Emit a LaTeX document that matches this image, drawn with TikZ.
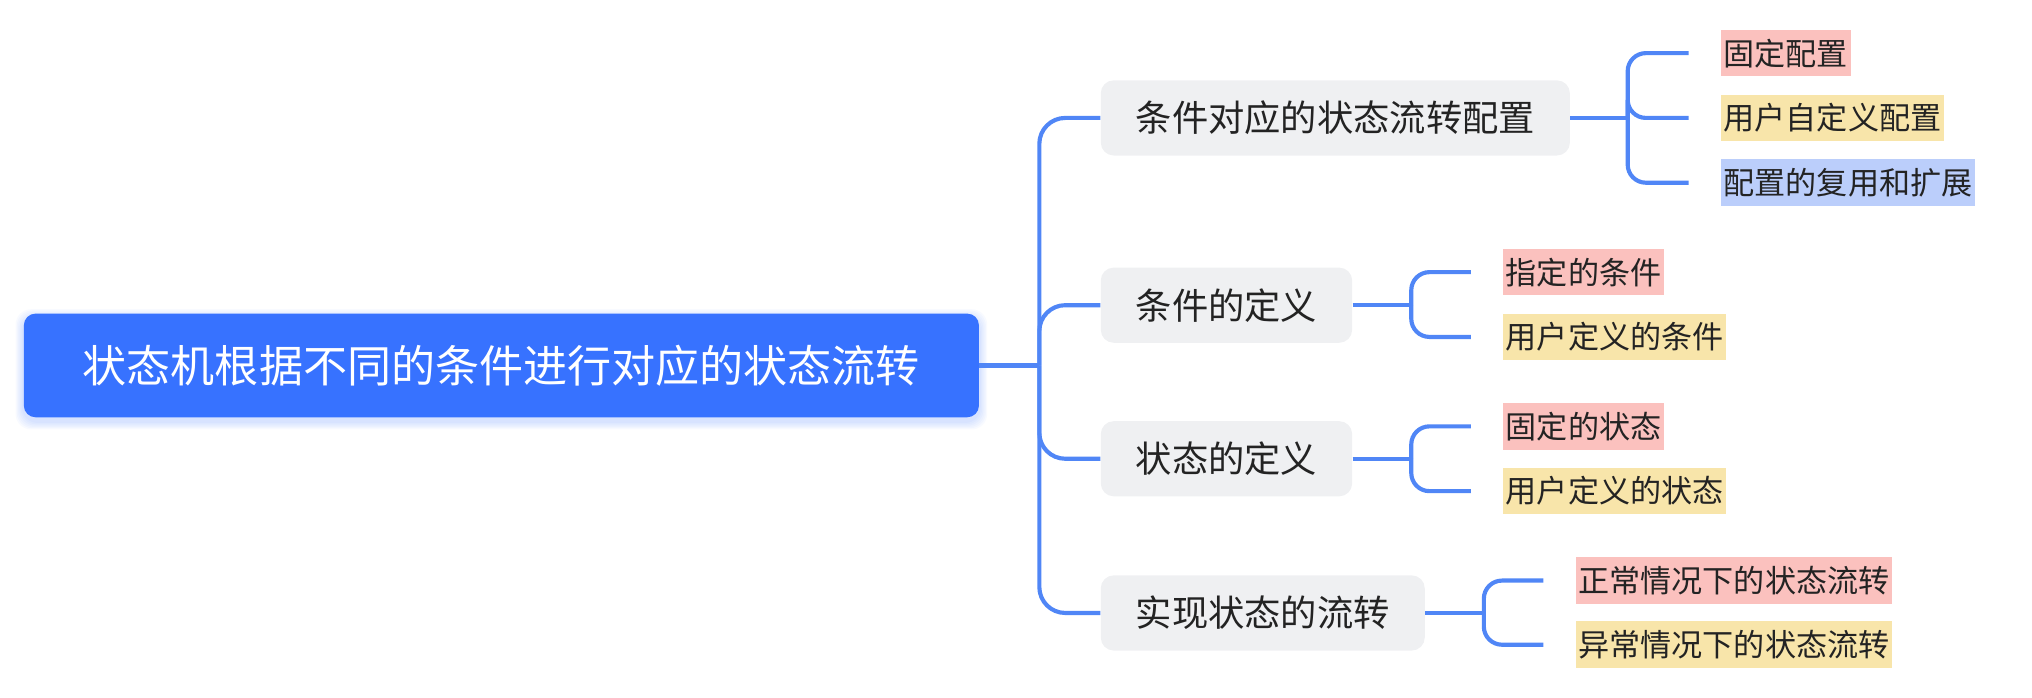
\documentclass[tikz,border=0pt]{standalone}
\usepackage{fontspec}
\newfontfamily\cjk{Noto Sans CJK SC}
\usetikzlibrary{backgrounds}
\definecolor{connblue}{HTML}{5086F6}
\definecolor{rootblue}{HTML}{3772FF}
\definecolor{topicgray}{HTML}{EFF0F2}
\definecolor{textdark}{HTML}{232323}
\definecolor{fillred}{HTML}{FBC1BE}
\definecolor{fillyellow}{HTML}{F8E5AA}
\definecolor{fillblue}{HTML}{BBCEFB}
\begin{document}
\begin{tikzpicture}[x=0.5pt,y=-0.5pt,
  link/.style={draw=connblue,line width=1.6pt},
  rootbox/.style={fill=rootblue,rounded corners=4.5pt,minimum width=368.5pt,minimum height=40pt,inner sep=0pt,text=white,font=\cjk\fontsize{17pt}{20pt}\selectfont},
  topicbox/.style={fill=topicgray,rounded corners=5pt,minimum height=29pt,inner xsep=13.5pt,inner ysep=0pt,text=textdark,font=\cjk\fontsize{14pt}{17pt}\selectfont},
  leafbox/.style={minimum height=18pt,inner xsep=1pt,inner ysep=0pt,outer xsep=12.5pt,outer ysep=0pt,text=textdark,font=\cjk\fontsize{12pt}{14pt}\selectfont},
  leafred/.style={leafbox,fill=fillred},
  leafyellow/.style={leafbox,fill=fillyellow},
  leafblue/.style={leafbox,fill=fillblue}]
\useasboundingbox (0,0) rectangle (1568,538.6);

\node[rootbox,anchor=west] (root) at (18,282) {状态机根据不同的条件进行对应的状态流转};
\begin{scope}[on background layer]
\foreach \i in {0.5,1,...,3}{
  \fill[rootblue,opacity=0.035,rounded corners=6pt] ([xshift=-\i pt,yshift=-\i pt-1.5pt]root.south west) rectangle ([xshift=\i pt,yshift=\i pt-1.5pt]root.north east);
}
\end{scope}

\node[topicbox,anchor=west] (t1) at (849,91) {条件对应的状态流转配置};
\node[topicbox,anchor=west] (t2) at (849,235.5) {条件的定义};
\node[topicbox,anchor=west] (t3) at (849,354) {状态的定义};
\node[topicbox,anchor=west] (t4) at (849,473) {实现状态的流转};

\coordinate (h0) at (802,282);
\coordinate (h1) at (1256,91);
\coordinate (h2) at (1089,235.5);
\coordinate (h3) at (1089,354);
\coordinate (h4) at (1145,473);

\node[leafred,anchor=west] (l11) at (1303,41) {固定配置};
\node[leafyellow,anchor=west] (l12) at (1303,91) {用户自定义配置};
\node[leafblue,anchor=west] (l13) at (1303,141) {配置的复用和扩展};

\node[leafred,anchor=west] (l21) at (1135,210) {指定的条件};
\node[leafyellow,anchor=west] (l22) at (1135,260) {用户定义的条件};

\node[leafred,anchor=west] (l31) at (1135,329) {固定的状态};
\node[leafyellow,anchor=west] (l32) at (1135,379) {用户定义的状态};

\node[leafred,anchor=west] (l41) at (1191,448) {正常情况下的状态流转};
\node[leafyellow,anchor=west] (l42) at (1191,497.5) {异常情况下的状态流转};

\draw[link] (root.east) -- (h0);
\foreach \n in {t1,t2,t3,t4}{
  \draw[link,rounded corners=10pt] (h0) |- (\n.west);
}
\draw[link] (t1.east) -- (h1);
\foreach \n in {l11,l12,l13}{ \draw[link,rounded corners=7pt] (h1) |- (\n.west); }
\draw[link] (t2.east) -- (h2);
\foreach \n in {l21,l22}{ \draw[link,rounded corners=7pt] (h2) |- (\n.west); }
\draw[link] (t3.east) -- (h3);
\foreach \n in {l31,l32}{ \draw[link,rounded corners=7pt] (h3) |- (\n.west); }
\draw[link] (t4.east) -- (h4);
\foreach \n in {l41,l42}{ \draw[link,rounded corners=7pt] (h4) |- (\n.west); }
\end{tikzpicture}
\end{document}
